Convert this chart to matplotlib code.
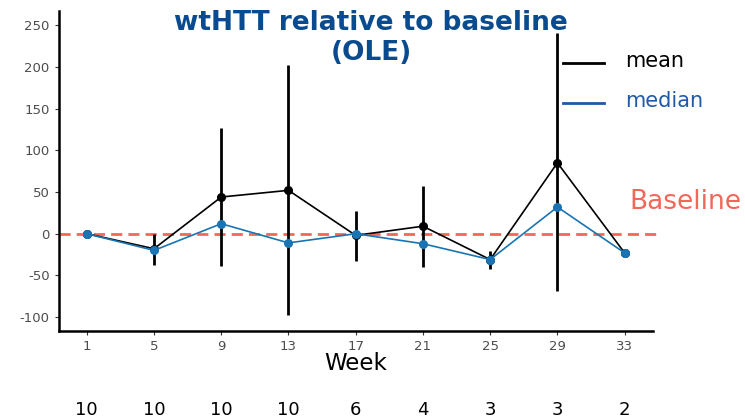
import matplotlib
matplotlib.use("Agg")
import matplotlib.pyplot as plt

plt.rcParams["axes.unicode_minus"] = False

weeks = [1, 5, 9, 13, 17, 21, 25, 29, 33]
mean_vals = [0, -18, 44, 52, -2, 9, -31, 85, -23]
err_low = [0, -37, -39, -98, -33, -40, -42, -69, -23]
err_high = [0, 0, 127, 202, 27, 57, -21, 241, -23]
median_vals = [0, -20, 12, -11, 0, -12, -31, 32, -23]
n_counts = ["10", "10", "10", "10", "6", "4", "3", "3", "2"]
yticks = [-100, -50, 0, 50, 100, 150, 200, 250]

fig = plt.figure(figsize=(7.45, 4.19), dpi=100)
ax = fig.add_axes([0.0788, 0.2093, 0.7973, 0.7644])

# error bars
ax.vlines(weeks, err_low, err_high, color="black", lw=2, zorder=2)
ax.plot(weeks, mean_vals, color="black", lw=1.2, marker="o", ms=5.5, zorder=3)
ax.plot(weeks, median_vals, color="#1a74b3", lw=1.2, marker="o", ms=5.5, zorder=4)
ax.axhline(0, xmin=0, xmax=1.013, color="#f2675a", lw=2, ls=(0, (4, 2.2)), clip_on=False, zorder=1)

ax.set_xlim(-0.67, 34.67)
ax.set_ylim(-117, 267)
ax.set_xticks(weeks)
ax.set_xticklabels([str(w) for w in weeks])
ax.set_yticks(yticks)
for s in ["top", "right"]:
    ax.spines[s].set_visible(False)
for s in ["left", "bottom"]:
    ax.spines[s].set_linewidth(1.8)
    ax.spines[s].set_color("black")
ax.tick_params(axis="both", colors="#333333", labelcolor="#4d4d4d", labelsize=9.5, length=3, width=0.8)
ax.set_xlabel("Week", fontsize=16.5, labelpad=-1)

fig.text(0.498, 0.975, "wtHTT relative to baseline\n(OLE)", ha="center", va="top",
         fontsize=19, fontweight="bold", color="#0a4a8f", linespacing=1.2)

# legend-like labels
lx0, lx1 = 563 / 745, 604 / 745
fig.add_artist(plt.Line2D([lx0, lx1], [1 - 63 / 419] * 2, color="black", lw=2))
fig.add_artist(plt.Line2D([lx0, lx1], [1 - 103 / 419] * 2, color="#1f5aa6", lw=2))
fig.text(625 / 745, 1 - 61 / 419, "mean", fontsize=15, color="black", va="center")
fig.text(625 / 745, 1 - 101 / 419, "median", fontsize=15, color="#1f5aa6", va="center")
fig.text(629 / 745, 1 - 202 / 419, "Baseline", fontsize=19, color="#f2675a", va="center")

# counts under axis
for w, n in zip(weeks, n_counts):
    ax.text(w, -0.246, n, transform=ax.get_xaxis_transform(), ha="center", va="center",
            fontsize=13, color="black", clip_on=False)

fig.savefig("out.png", dpi=100)
